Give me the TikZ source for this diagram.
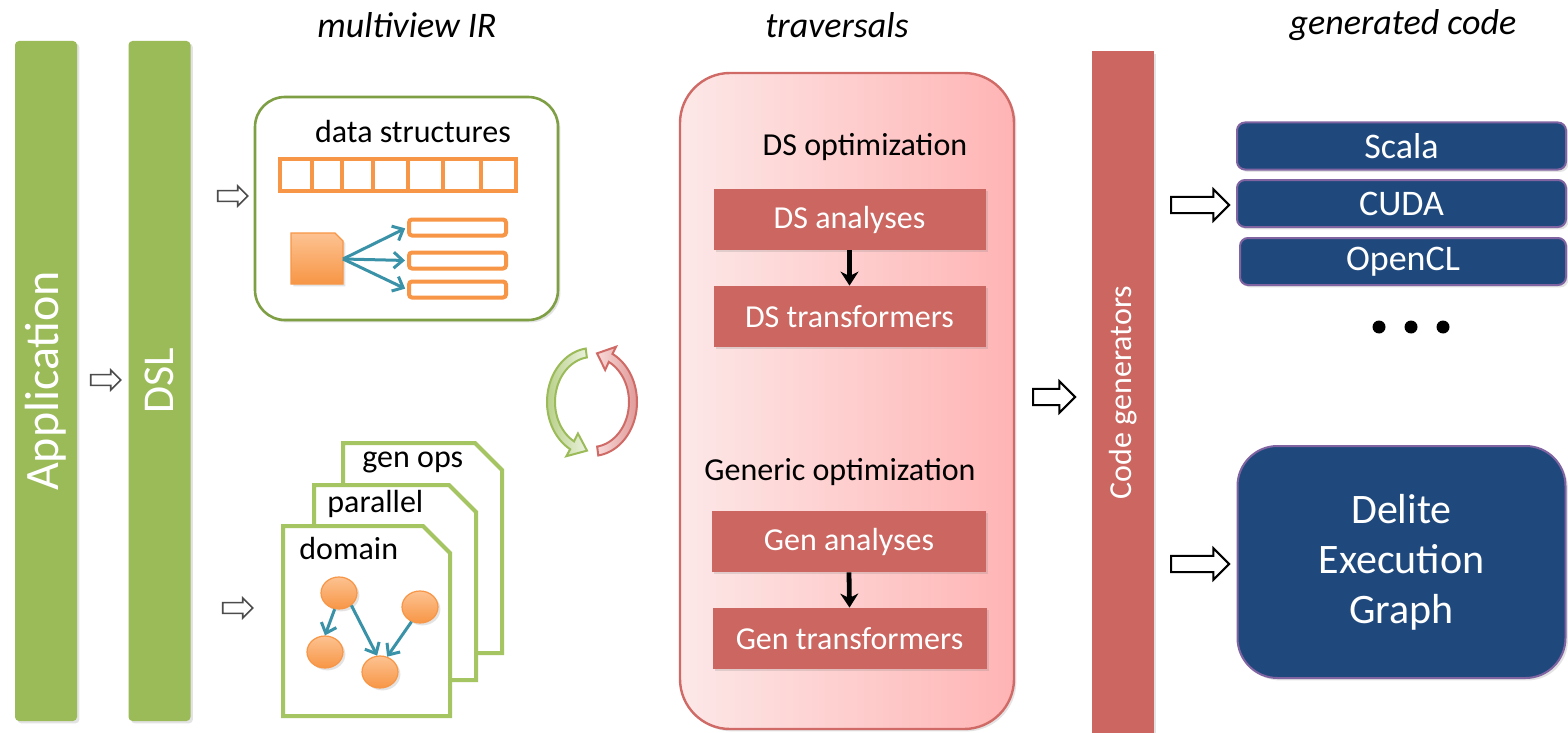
\documentclass[tikz,border=0pt]{standalone}
\usepackage{fontspec}
\setmainfont{Carlito}
\usetikzlibrary{arrows.meta,shapes.arrows,shapes.geometric,shadows}
\definecolor{barGreen}{HTML}{9BBB59}
\definecolor{boxGreen}{HTML}{7F9F45}
\definecolor{docGreen}{HTML}{A5C563}
\definecolor{orng}{HTML}{F79646}
\definecolor{orngLight}{HTML}{FDC291}
\definecolor{dsTeal}{HTML}{3A92A8}
\definecolor{redBox}{HTML}{CB6661}
\definecolor{travBorder}{HTML}{D06A66}
\definecolor{travLeft}{HTML}{FDE8E8}
\definecolor{travRight}{HTML}{FFB4B4}
\definecolor{navy}{HTML}{1F497D}
\definecolor{purp}{HTML}{8064A2}
\definecolor{cycGreenL}{HTML}{EAF1DD}
\definecolor{cycGreenD}{HTML}{B9D18A}
\definecolor{cycRedL}{HTML}{F7D9D8}
\definecolor{cycRedD}{HTML}{E09A98}
\tikzset{
  softshadow/.style={drop shadow={opacity=0.22, shadow xshift=1.2pt, shadow yshift=-1.2pt}},
  fA/.style={font=\fontsize{16pt}{19pt}\selectfont},
  titlest/.style={font=\fontsize{18pt}{22pt}\selectfont\itshape, inner sep=0pt},
  greenbar/.style={fill=barGreen, rotate=90, minimum width=340pt, minimum height=31pt,
    inner sep=0pt, text=white, rounded corners=2pt, softshadow},
  redbar/.style={fill=redBox, rotate=90, minimum width=341pt, minimum height=31pt,
    inner sep=0pt, text=white, softshadow, fA},
  smallarrow/.style={single arrow, draw=black!70, fill=white, line width=0.8pt,
    inner xsep=0pt, inner ysep=2.3pt, minimum height=15pt, single arrow head extend=2.3pt},
  bigarrow/.style={single arrow, draw=black, fill=white, line width=1pt,
    inner xsep=0pt, inner ysep=3.6pt, minimum height=29pt, single arrow head extend=3.8pt},
  redbox/.style={fill=redBox, text=white, minimum width=136pt, minimum height=30.5pt,
    inner sep=0pt, fA, softshadow},
  bluebox/.style={fill=navy, draw=purp, line width=1pt, rounded corners=4pt, text=white,
    font=\fontsize{18pt}{22pt}\selectfont, minimum width=164.5pt, minimum height=23.5pt,
    inner sep=0pt, softshadow},
  trav/.style={draw=travBorder, line width=1.2pt, left color=travLeft, right color=travRight,
    rounded corners=25pt, minimum width=167pt, minimum height=328pt, inner sep=0pt, softshadow},
  dsbox/.style={draw=boxGreen, line width=1.3pt, fill=white, rounded corners=15pt,
    minimum width=151.5pt, minimum height=111.5pt, inner sep=0pt, softshadow},
  orect/.style={draw=orng, line width=2pt, fill=white, rounded corners=1.5pt,
    minimum width=48.5pt, minimum height=8pt, inner sep=0pt},
  docst/.style={draw=docGreen, fill=white, line width=2pt},
  gnode/.style={ellipse, minimum width=18pt, minimum height=16pt, inner sep=0pt,
    top color=orngLight, bottom color=orng, draw=orng, line width=0.6pt, softshadow},
  tealarrow/.style={draw=dsTeal, line width=1.5pt, -{Straight Barb[length=4.5pt,width=8pt,line width=1.5pt]}},
  blackarrow/.style={draw=black, line width=2.4pt, -{Stealth[length=7pt,width=9pt]}},
  dotst/.style={circle, fill=black, minimum size=6.5pt, inner sep=0pt},
  lbl/.style={inner sep=0pt, fA}
}
\begin{document}
\begin{tikzpicture}[x=0.5pt,y=-0.5pt]
\path[fill=white,use as bounding box] (0,0) rectangle (1568,733);

% titles
\node[titlest] (t1) at (407,25) {multiview IR};
\node[titlest] (t2) at (837,25) {traversals};
\node[titlest] (t3) at (1403,25) {generated code};

% left bars
\node[greenbar, font=\fontsize{24pt}{28pt}\selectfont] (app) at (46,381) {Application};
\node[greenbar, font=\fontsize{22pt}{26pt}\selectfont] (dsl) at (159.5,381) {DSL};
\node[smallarrow] (a1) at (103,380) {};
\node[smallarrow] (a2) at (230,196) {};
\node[smallarrow] (a3) at (235,608) {};

% data structures box
\node[dsbox] (ds) at (406.5,208.5) {};
\node[lbl] (dst) at (413,132) {data structures};
\draw[draw=orng, line width=2pt] (280,159) rectangle (516,191);
\foreach \xx in {312,342,373,408,443,481}
  \draw[draw=orng, line width=2pt] (\xx,159) -- (\xx,191);
\path[draw=orng, line width=0.6pt, top color=orngLight, bottom color=orng, softshadow]
  (291,233) -- (335,233) -- (343,241) -- (343,284) -- (291,284) -- cycle;
\coordinate (dsrc) at (343,259);
\node[orect] (r1) at (457.5,227.5) {};
\node[orect] (r2) at (457.5,260.5) {};
\node[orect] (r3) at (457.5,289.5) {};
\draw[tealarrow, shorten >=1pt] (dsrc) -- (r1.west);
\draw[tealarrow, shorten >=1pt] (dsrc) -- (r2.west);
\draw[tealarrow, shorten >=1pt] (dsrc) -- (r3.west);

% document stack
\path[docst] (343,443) -- (475,443) -- (502,470) -- (502,653) -- (343,653) -- cycle;
\node[lbl, anchor=west] (genops) at (362,462) {gen ops};
\path[docst] (314,485) -- (449,485) -- (476,512) -- (476,680) -- (314,680) -- cycle;
\node[lbl, anchor=west] (par) at (327,504) {parallel};
\path[docst] (283,526) -- (423,526) -- (450,553) -- (450,716) -- (283,716) -- cycle;
\node[lbl, anchor=west] (dom) at (299,549) {domain};
\node[gnode] (c1) at (339,593) {};
\node[gnode] (c2) at (325,652) {};
\node[gnode] (c3) at (380,672) {};
\node[gnode] (c4) at (420,607) {};
\draw[tealarrow] (c1.255) -- (c2.north);
\draw[tealarrow] (c1.315) -- (c3.100);
\draw[tealarrow] (c4.240) -- (c3.65);

% cycle arrows (elliptical bands)
\path[draw=barGreen, line width=1pt, left color=cycGreenD, right color=cycGreenL]
  plot[domain=262:119, samples=40] ({592+45*cos(\x)},{402+54*sin(\x)})
  -- ({592+53*cos(119)},{402+62*sin(119)})
  -- ({592+41*cos(97)},{402+49*sin(97)})
  -- ({592+29*cos(119)},{402+36*sin(119)})
  -- plot[domain=119:262, samples=40] ({592+37*cos(\x)},{402+45*sin(\x)}) -- cycle;
\path[draw=travBorder, line width=1pt, left color=cycRedL, right color=cycRedD]
  plot[domain=82:-63, samples=40] ({592+45*cos(\x)},{402+54*sin(\x)})
  -- ({592+53*cos(-63)},{402+62*sin(-63)})
  -- ({592+41*cos(-83)},{402+49*sin(-83)})
  -- ({592+29*cos(-63)},{402+36*sin(-63)})
  -- plot[domain=-63:82, samples=40] ({592+37*cos(\x)},{402+45*sin(\x)}) -- cycle;

% traversals
\node[trav] (tr) at (847,401) {};
\node[lbl] (dsopt) at (865,147) {DS optimization};
\node[redbox] (dsA) at (849.5,219.5) {DS analyses};
\node[redbox] (dsT) at (849.5,316.5) {DS transformers};
\draw[blackarrow] (dsA.south) -- (dsT.north);
\node[lbl] (genopt) at (840,472) {Generic optimization};
\node[redbox, minimum width=137pt] (gA) at (849,541.5) {Gen analyses};
\node[redbox, minimum width=137pt] (gT) at (849.5,638.5) {Gen transformers};
\draw[blackarrow] (gA.south) -- (gT.north);

% code generators
\node[bigarrow, minimum height=21pt] (a4) at (1050,397) {};
\node[redbar] (cg) at (1123,392.5) {Code generators};
\node[bigarrow] (a5) at (1196,205) {};
\node[bigarrow] (a6) at (1196,564) {};

% generated code
\node[bluebox] (scala) at (1401.5,146) {Scala};
\node[bluebox] (cuda) at (1401.5,203.5) {CUDA};
\node[bluebox, minimum width=163pt] (ocl) at (1403,261.5) {OpenCL};
\node[dotst] (d1) at (1379,327) {};
\node[dotst] (d2) at (1411,327) {};
\node[dotst] (d3) at (1443,327) {};
\node[bluebox, minimum height=116pt, minimum width=164pt, rounded corners=20pt,
  font=\fontsize{21pt}{25pt}\selectfont, align=center] (deg) at (1401.5,562) {Delite\\Execution\\Graph};
\end{tikzpicture}
\end{document}
